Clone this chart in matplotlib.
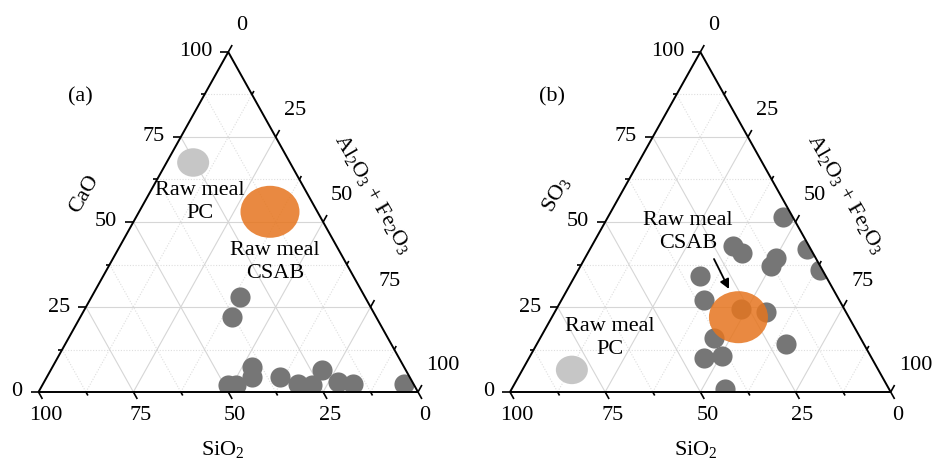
import numpy as np
import matplotlib
matplotlib.use('Agg')
import matplotlib.pyplot as plt
from matplotlib.patches import Polygon, Ellipse

plt.rcParams['font.family'] = ['Liberation Serif', 'DejaVu Serif']
plt.rcParams['mathtext.fontset'] = 'custom'
plt.rcParams['mathtext.rm'] = 'Liberation Serif'
plt.rcParams['mathtext.it'] = 'Liberation Serif:italic'

# panel (a): SiO2 - CaO - (Al2O3+Fe2O3), wt.%
a_sio2 = [33, 38, 40, 41.5, 49, 47, 34, 30.5, 27, 22, 19.5, 16, 2.5]
a_cao = [28, 22, 7.5, 4.5, 2, 2, 4.5, 2.5, 2, 6.5, 3, 2.5, 2.5]
a_alfe = [39, 40, 52.5, 54, 49, 51, 61.5, 67, 71, 71.5, 77.5, 81.5, 95]
a_pc = (25.5, 67.5, 7)       # raw meal PC  (SiO2, CaO, Al2O3+Fe2O3)
a_csab = (12.5, 53, 34.5)    # raw meal CSAB

# panel (b): SiO2 - SO3 - (Al2O3+Fe2O3)
b_sio2 = [2.5, 1, 0.5, 20, 18.5, 10.5, 13, 33, 35.5, 27, 21, 38.5, 20.5, 44, 39, 43]
b_so3 = [51.5, 42, 36, 43, 41, 39.5, 37, 34, 27, 24.5, 23.5, 16, 14, 10, 10.5, 1]
b_alfe = [46, 57, 63.5, 37, 40.5, 50, 50, 33, 37.5, 48.5, 55.5, 45.5, 65.5, 46, 50.5, 56]
b_pc = (80.5, 6.5, 13)
b_csab = (29, 22, 49)

ticks = [0, 25, 50, 75, 100]
minor = [12.5, 37.5, 62.5, 87.5]

fig = plt.figure(figsize=(9.35, 4.59), dpi=100)
H = 459.0
BASE, TOP = 392.0, 52.0


def tern(si, top, al):
    si, top, al = np.asarray(si, float), np.asarray(top, float), np.asarray(al, float)
    s = si + top + al
    return (al + top / 2) / s, top / s


def panel(x0, x1, lx, w, label, top_name, si, top, al, pc, csab):
    ax = fig.add_axes([x0 / 935, 0, (x1 - x0) / 935, 1])
    hgt = BASE - TOP
    ax.set_xlim((x0 - lx) / w, (x1 - lx) / w)
    ax.set_ylim((BASE - H) / hgt, BASE / hgt)
    ax.axis('off')
    sx, sy = 1 / w, 1 / hgt   # data units per pixel

    # grid
    for v in minor + [25, 50, 75]:
        maj = v in (25, 50, 75)
        kw = dict(color='#d6d6d6' if maj else '#dedede', lw=0.8,
                  ls='-' if maj else (0, (1, 1.5)), zorder=1)
        for p, q in [((100 - v, v, 0), (0, v, 100 - v)),
                     ((v, 100 - v, 0), (v, 0, 100 - v)),
                     ((100 - v, 0, v), (0, 100 - v, v))]:
            xs, ys = tern(*zip(p, q))
            ax.plot(xs, ys, **kw)

    tri = Polygon([[0, 0], [1, 0], [0.5, 1]], closed=True, fill=False,
                  ec='black', lw=1.4, zorder=6)
    ax.add_patch(tri)
    clip = Polygon([[0, 0], [1, 0], [0.5, 1]], closed=True, transform=ax.transData)

    # ticks
    d_left = np.array([-1.0, 0.0])
    d_bot = np.array([190.0, -340.0]) / np.hypot(190, 340)
    d_right = np.array([190.0, 340.0]) / np.hypot(190, 340)
    for v in ticks + minor:
        ln = 8 if v in ticks else 4
        for (x, y), d in [(tern(100 - v, v, 0), d_left),
                          (tern(v, 0, 100 - v), d_bot),
                          (tern(0, 100 - v, v), d_right)]:
            ax.plot([x, x + d[0] * ln * sx], [y, y + d[1] * ln * sy],
                    color='black', lw=1.2, zorder=6, solid_capstyle='butt')
    fs = 16
    for v in ticks:
        x, y = tern(100 - v, v, 0)
        ax.text(x - 16 * sx, y, f'{v}', ha='right', va='center', fontsize=fs)
        x, y = tern(v, 0, 100 - v)
        ax.text(x + 7 * sx, y - 23.5 * sy, f'{v}', ha='center', va='center', fontsize=fs)
        x, y = tern(0, 100 - v, v)
        ax.text(x + 8 * sx, y + 26 * sy, f'{v}', ha='left', va='center', fontsize=fs)

    # axis titles
    ax.text(0.5 - 5 * sx, -57 * sy, 'SiO$_2$', ha='center', va='center', fontsize=fs)
    ax.text(0.25 - 49 * sx, 0.5 + 28 * sy, top_name, ha='center', va='center',
            fontsize=fs, rotation=60)
    ax.text(0.75 + 50 * sx, 0.5 + 28 * sy, 'Al$_2$O$_3$ + Fe$_2$O$_3$', ha='center',
            va='center', fontsize=fs, rotation=-60)
    ax.text(42 * sx, (BASE - 97) * sy, label, ha='center', va='center', fontsize=fs)

    # data
    xs, ys = tern(si, top, al)
    pts, = ax.plot(xs, ys, 'o', ms=14.5, color='#767676', mec='none', zorder=3)
    pts.set_clip_path(clip)
    x, y = tern(*pc)
    e = Ellipse((x, y), 32 * sx, 28.5 * sy, color='#c6c6c6', lw=0, zorder=4)
    ax.add_patch(e)
    e.set_clip_path(clip)
    x, y = tern(*csab)
    ax.add_patch(Ellipse((x, y), 59 * sx, 52 * sy, color='#e6751f', alpha=0.85,
                         lw=0, zorder=5))
    return ax, sx, sy


def pix(ax_l, w, px, py):
    return (px - ax_l) / w, (BASE - py) / (BASE - TOP)


ax1, sx1, sy1 = panel(0, 467.5, 38.5, 379.5, '(a)', 'CaO',
                      a_sio2, a_cao, a_alfe, a_pc, a_csab)
ax1.text(*pix(38.5, 379.5, 200, 202), 'Raw meal\nPC', ha='center', va='center',
         fontsize=16, linespacing=1.25, zorder=8)
ax1.text(*pix(38.5, 379.5, 275, 262), 'Raw meal\nCSAB', ha='center', va='center',
         fontsize=16, linespacing=1.25, zorder=8)

ax2, sx2, sy2 = panel(467.5, 935, 510, 380.7, '(b)', 'SO$_3$',
                      b_sio2, b_so3, b_alfe, b_pc, b_csab)
ax2.text(*pix(510, 380.7, 688, 232), 'Raw meal\nCSAB', ha='center', va='center',
         fontsize=16, linespacing=1.25, zorder=8)
ax2.text(*pix(510, 380.7, 610, 338), 'Raw meal\nPC', ha='center', va='center',
         fontsize=16, linespacing=1.25, zorder=8)
ax2.annotate('', xy=pix(510, 380.7, 729, 289), xytext=pix(510, 380.7, 714, 259),
             arrowprops=dict(arrowstyle='-|>', color='black', lw=1.3,
                             mutation_scale=14, shrinkA=0, shrinkB=0), zorder=8)

fig.savefig('out.png', dpi=100)
